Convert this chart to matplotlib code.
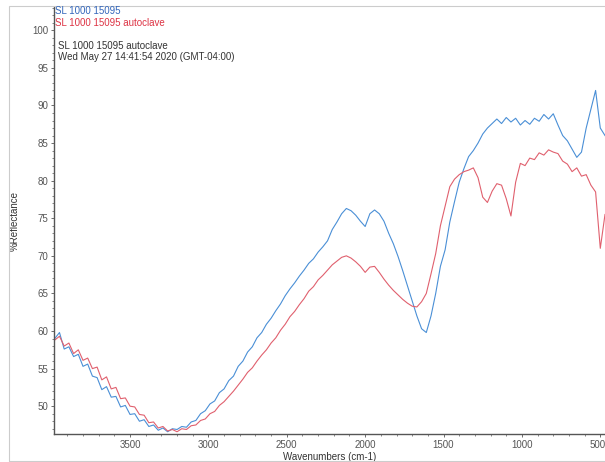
import numpy as np
import matplotlib
matplotlib.use("Agg")
import matplotlib.pyplot as plt
from matplotlib.ticker import MultipleLocator
from matplotlib.patches import Rectangle
from matplotlib.transforms import ScaledTranslation

plt.rcParams['font.family'] = ['Liberation Sans', 'DejaVu Sans']

# =======================
# DATA
# =======================
wavenumbers = np.arange(3980, 469, -30)  # sampling grid, cm-1

blue_sample = [
    59.0, 59.8, 57.6, 57.9, 56.6, 56.9, 55.3, 55.6, 54.0, 53.8,
    52.2, 52.6, 51.2, 51.3, 49.9, 50.1, 48.9, 49.0, 48.0, 48.2,
    47.3, 47.5, 46.8, 47.1, 46.6, 47.0, 46.9, 47.3, 47.2, 47.9,
    48.1, 49.0, 49.4, 50.3, 50.7, 51.8, 52.3, 53.4, 54.0, 55.3,
    56.0, 57.2, 57.9, 59.1, 59.8, 60.9, 61.7, 62.7, 63.6, 64.7,
    65.6, 66.4, 67.3, 68.1, 69.0, 69.6, 70.5, 71.2, 72.0, 73.5,
    74.5, 75.6, 76.3, 76.0, 75.4, 74.6, 73.9, 75.6, 76.1, 75.6,
    74.6, 73.0, 71.6, 69.9, 68.0, 66.0, 64.0, 62.0, 60.3, 59.8,
    62.0, 65.0, 68.6, 70.8, 74.5, 77.2, 79.8, 81.6, 83.2, 84.0,
    85.0, 86.2, 87.0, 87.6, 88.2, 87.6, 88.4, 87.8, 88.3, 87.4,
    88.0, 87.5, 88.3, 87.9, 88.8, 88.2, 88.9, 87.4, 86.0, 85.3,
    84.2, 83.1, 83.8, 87.0, 89.5, 92.0, 87.0, 86.0,
]

red_autoclave = [
    58.8, 59.3, 58.0, 58.4, 57.0, 57.5, 56.1, 56.4, 55.0, 55.2,
    53.5, 53.9, 52.3, 52.5, 51.0, 51.1, 50.0, 49.9, 48.9, 48.8,
    47.8, 47.9, 47.1, 47.3, 46.7, 46.9, 46.6, 47.0, 46.9, 47.4,
    47.5, 48.1, 48.3, 49.0, 49.3, 50.1, 50.6, 51.3, 52.0, 52.8,
    53.6, 54.5, 55.1, 56.0, 56.8, 57.5, 58.4, 59.1, 60.1, 60.9,
    61.9, 62.6, 63.5, 64.3, 65.3, 65.9, 66.8, 67.4, 68.1, 68.8,
    69.3, 69.8, 70.0, 69.7, 69.2, 68.6, 67.8, 68.5, 68.6, 67.8,
    66.9, 66.1, 65.4, 64.8, 64.2, 63.7, 63.3, 63.2, 63.9, 65.0,
    67.6, 70.3, 74.0, 76.6, 79.2, 80.2, 80.8, 81.2, 81.4, 81.7,
    80.4, 77.8, 77.1, 78.6, 79.6, 79.4, 77.6, 75.3, 79.8, 82.3,
    82.0, 83.0, 82.8, 83.7, 83.4, 84.1, 83.8, 83.6, 82.6, 82.2,
    81.2, 81.7, 80.6, 80.8, 79.4, 78.5, 71.0, 75.5,
]

legend_labels = ["SL 1000 15095", "SL 1000 15095 autoclave"]
header_lines = ["SL 1000 15095 autoclave",
                "Wed May 27 14:41:54 2020 (GMT-04:00)"]

BLUE = "#4a8fd6"
RED = "#e0606e"
GREY = "#555555"

# =======================
# PLOT
# =======================
fig = plt.figure(figsize=(6.05, 4.62), dpi=100)
ax = fig.add_axes([54 / 605, 1 - 434 / 462, 551 / 605, 427 / 462])

ax.plot(wavenumbers, blue_sample, color=BLUE, lw=0.8)
ax.plot(wavenumbers, red_autoclave, color=RED, lw=0.8)

ax.set_xlim(3985, 470)
ax.set_ylim(46.3, 103.1)
ax.xaxis.set_major_locator(MultipleLocator(500))
ax.xaxis.set_minor_locator(MultipleLocator(100))
ax.yaxis.set_major_locator(MultipleLocator(5))
ax.yaxis.set_minor_locator(MultipleLocator(1))
ax.tick_params(which="both", direction="out", colors=GREY, labelsize=7, pad=1.5)
ax.tick_params(which="major", length=2.5, width=0.6)
ax.tick_params(which="minor", length=1.5, width=0.5)

for side in ("top", "right"):
    ax.spines[side].set_visible(False)
for side in ("left", "bottom"):
    ax.spines[side].set_color(GREY)
    ax.spines[side].set_linewidth(1.0)

ax.set_xlabel("Wavenumbers (cm-1)", fontsize=7, color="#333333")
ax.set_ylabel("%Reflectance", fontsize=7, color="#333333")
ax.xaxis.set_label_coords(0.5, (434 - 457) / 427, transform=ax.transAxes)
ax.yaxis.set_label_coords((15 - 54) / 551, 0.5, transform=ax.transAxes)
ax.xaxis.label.set_va("center")
ax.yaxis.label.set_va("center")

# keep the last x label ("500") inside the page, as in the scan
fig.canvas.draw()
for tick in ax.xaxis.get_major_ticks():
    if abs(tick.get_loc() - 500) < 1:
        lab = tick.label1
        lab.set_transform(lab.get_transform()
                          + ScaledTranslation(-3 / 100, 0, fig.dpi_scale_trans))

# legend entries and header text
fig.text(55 / 605, 1 - 11 / 462, legend_labels[0], color="#3366bb",
         fontsize=7, va="center")
fig.text(55 / 605, 1 - 23 / 462, legend_labels[1], color="#dd3344",
         fontsize=7, va="center")
fig.text(58 / 605, 1 - 46 / 462, header_lines[0], color="#333333",
         fontsize=7, va="center")
fig.text(58 / 605, 1 - 57 / 462, header_lines[1], color="#333333",
         fontsize=7, va="center")

# light outer frame of the scanned page
fig.patches.append(Rectangle((9 / 605, 1 / 462), 1.2, 455 / 462,
                             transform=fig.transFigure, fill=False,
                             edgecolor="#cccccc", lw=0.8))

fig.savefig("out.png", dpi=100)
